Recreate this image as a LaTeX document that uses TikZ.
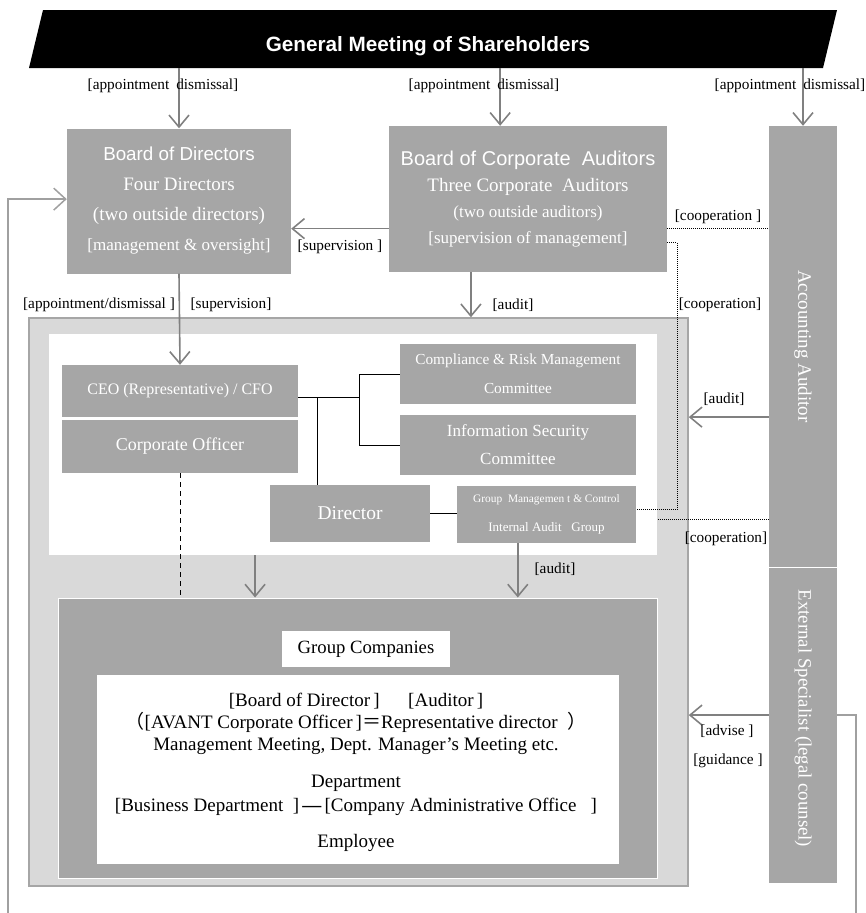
\documentclass[tikz,border=0pt]{standalone}
\usepackage{fontspec}
\setmainfont{Liberation Serif}
\setsansfont{Liberation Sans}
\newfontfamily\cjkfont{Noto Sans CJK JP}
\usetikzlibrary{arrows.meta,calc,positioning}
\definecolor{boxgray}{RGB}{166,166,166}
\definecolor{litegray}{RGB}{217,217,217}
\definecolor{arrgray}{RGB}{128,128,128}
\definecolor{linegray}{RGB}{160,160,160}

\begin{document}
\begin{tikzpicture}[x=1pt,y=-1pt,
	box/.style={fill=boxgray,text=white,inner sep=0pt,align=center},
	lbl/.style={font=\fontsize{15.3}{17}\selectfont,inner sep=0pt},
	arr/.style={draw=arrgray,line width=1.6pt,-{Straight Barb[length=12pt,width=20pt]}},
	org/.style={draw=black,line width=1pt},
	coop/.style={draw=black,line width=0.9pt,dash pattern=on 1pt off 1pt},
	fb/.style={draw=linegray,line width=1.5pt}]
	\useasboundingbox (0,0) rectangle (866,913);
	% shareholders
	\fill[black] (43,10) -- (837,10) -- (823,68) -- (29,68) -- cycle;
	\coordinate (gmsb) at (433,68);
	\node[font=\sffamily\bfseries\fontsize{20.7}{24}\selectfont,text=white] (gms) at (428,46) {General Meeting of Shareholders};

	% boards
	\node[box,minimum width=224,minimum height=145,font=\fontsize{19}{30}\selectfont] (bod) at (179,201) {{\sffamily\fontsize{18.8}{30}\selectfont Board of Directors}\\Four Directors\\(two outside directors)\\{\fontsize{17}{30}\selectfont[management \& oversight]}};
	\node[box,minimum width=278,minimum height=146,font=\fontsize{19}{26}\selectfont] (bca) at (528,199) {{\sffamily\fontsize{20}{26}\selectfont Board of Corporate\ \ Auditors}\\Three Corporate\ \ Auditors\\{\fontsize{17}{26}\selectfont(two outside auditors)}\\{\fontsize{17}{26}\selectfont[supervision of management]}};

	% right column
	\node[box,minimum width=68,minimum height=441] (acc) at (803,346.5) {};
	\node[rotate=-90,text=white,font=\fontsize{19}{22}\selectfont] (acctx) at (acc) {Accounting Auditor};
	\node[box,minimum width=68,minimum height=315] (ext) at (803,725.5) {};
	\node[rotate=-90,text=white,font=\fontsize{18.8}{21}\selectfont] (exttx) at ([yshift=7pt]ext.center) {External Specialist (legal counsel)};

	% company
	\node[fill=litegray,draw=boxgray,line width=1.5pt,minimum width=659,minimum height=568,inner sep=0pt] (outer) at (358.5,602) {};
	\node[fill=white,minimum width=608,minimum height=221,inner sep=0pt] (inner) at (353,444.5) {};
	\node[box,minimum width=236,minimum height=52,font=\fontsize{16}{18}\selectfont] (ceo) at (180,391) {CEO (Representative) / CFO};
	\node[box,minimum width=236,minimum height=53,font=\fontsize{18}{20}\selectfont] (cof) at (180,446.5) {Corporate Officer};
	\node[box,minimum width=236,minimum height=60,font=\fontsize{15.3}{29}\selectfont] (crm) at (518,374) {Compliance \& Risk Management\\Committee};
	\node[box,minimum width=236,minimum height=60,font=\fontsize{17}{28}\selectfont] (isc) at (518,445) {Information Security\\Committee};
	\node[box,minimum width=160,minimum height=57,font=\fontsize{19.5}{22}\selectfont] (dir) at (350,513.5) {Director};
	\node[box,minimum width=179,minimum height=57,font=\fontsize{11.4}{29}\selectfont] (gmc) at (546.5,514.5) {Group\ \ Managemen t \& Control\\{\fontsize{13}{29}\selectfont Internal Audit\ \ \ Group}};

	% group companies
	\node[box,draw=white,line width=1pt,minimum width=599,minimum height=280] (grp) at (357.5,738) {};
	\node[fill=white,minimum width=168,minimum height=36,font=\fontsize{18.7}{21}\selectfont,inner sep=0pt] (gco) at (366,649) {Group Companies};
	\node[fill=white,minimum width=522,minimum height=189,inner sep=0pt] (gin) at (358,769.5) {};
	\node[align=center,font=\fontsize{19}{22}\selectfont,inner sep=0pt] (gtx) at (356,772.5) {[Board of Director\,]\quad\ \ [Auditor\,]\\{\cjkfont （}[AVANT Corporate Officer\,]{\cjkfont ＝}Representative director\ \ {\cjkfont ）}\\Management Meeting, Dept. Manager’s Meeting etc.\\[15pt]Department\\[2pt]{}[Business Department\ \ ]\,\textbf{—}\,[Company Administrative Office\ \ \ ]\\[14pt]Employee};

	% appointment / dismissal
	\coordinate (bcatop) at ($(bca.north west)!.4!(bca.north east)$);
	\draw[arr] (gmsb -| bod) -- (bod.north);
	\draw[arr] (gmsb -| bcatop) -- (bcatop);
	\draw[arr] (gmsb -| acc) -- (acc.north);
	\node[lbl] (ad1) at (163,86) {[appointment\hspace{7pt}dismissal]};
	\node[lbl] (ad2) at (484,86) {[appointment\hspace{7pt}dismissal]};
	\node[lbl] (ad3) at (790,86) {[appointment\hspace{7pt}dismissal]};

	% supervision, cooperation
	\coordinate (sup) at ($(bod.north east)!.69!(bod.south east)$);
	\draw[arr] (sup -| bca.west) -- (sup);
	\node[lbl] (sv1) at (340,247) {[supervision ]};
	\draw[coop] (sup -| bca.east) -- (sup -| acc.west);
	\node[lbl] (co1) at (718,217) {[cooperation ]};
	\draw[coop] ($(bca.north east)!.8!(bca.south east)$) -- ++(10,0) |- ($(gmc.north east)!.42!(gmc.south east)$);
	\node[lbl] (co2) at (720,305) {[cooperation]};

	% into the company
	\draw[arr] (bod.south) -- (ceo.north);
	\node[lbl] (ad4) at (99,305) {[appointment/dismissal ]};
	\node[lbl] (sv2) at (231,305) {[supervision]};
	\coordinate (bcabot) at ($(bca.south west)!.295!(bca.south east)$);
	\draw[arr] (bcabot) -- (bcabot |- outer.north);
	\node[lbl] (au1) at (513,305) {[audit]};

	% organisation lines
	\coordinate (ceor) at ($(ceo.north east)!.615!(ceo.south east)$);
	\draw[org] (crm.west) -- ++(-40,0) coordinate (bus) |- (isc.west);
	\draw[org] (ceor) -- (ceor -| bus);
	\coordinate (dtop) at ($(dir.north west)!.3!(dir.north east)$);
	\draw[org] (dtop) -- (dtop |- ceor);
	\draw[org] (dir.east) -- (dir.east -| gmc.west);

	% down to group companies
	\coordinate (inb) at ($(inner.south west)!.339!(inner.south east)$);
	\draw[arr] (inb) -- (inb |- grp.north);
	\coordinate (gmb) at ($(gmc.south west)!.34!(gmc.south east)$);
	\draw[arr] (gmb) -- (gmb |- grp.north);
	\node[lbl] (au2) at (555,569) {[audit]};
	\draw[black,line width=1pt,dash pattern=on 5pt off 4pt] (cof.south) -- (cof.south |- grp.north);

	% accounting auditor
	\coordinate (aud) at ($(acc.north west)!.66!(acc.south west)$);
	\draw[arr] (aud) -- (aud -| outer.east);
	\node[lbl] (au3) at (724,399) {[audit]};
	\coordinate (coo) at ($(acc.north west)!.891!(acc.south west)$);
	\draw[coop] (coo) -- (coo -| inner.east);
	\node[lbl] (co3) at (726,539) {[cooperation]};

	% external specialist
	\coordinate (adv) at ($(ext.north west)!.467!(ext.south west)$);
	\draw[arr] (adv) -- (adv -| outer.east);
	\node[lbl] (adv1) at (727,731) {[advise ]};
	\node[lbl] (gui1) at (728,761) {[guidance ]};

	% feedback
	\coordinate (rb) at (856,913);
	\draw[fb] (adv -| ext.east) -| (rb);
	\coordinate (lb) at (8,913);
	\coordinate (bodl) at ($(bod.north west)!.487!(bod.south west)$);
	\draw[fb,-{Straight Barb[length=12pt,width=22pt]}] (lb) |- (bodl);
\end{tikzpicture}
\end{document}
